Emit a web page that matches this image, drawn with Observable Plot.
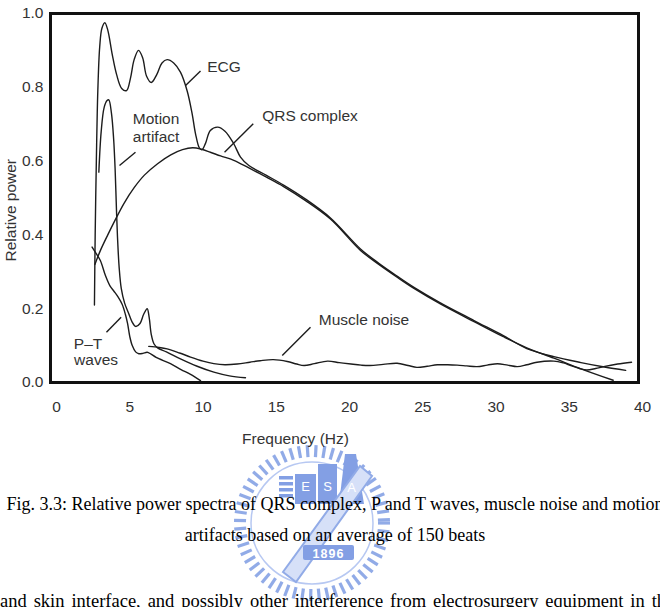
<!DOCTYPE html>
<html>
<head>
<meta charset="utf-8">
<script src="https://cdn.jsdelivr.net/npm/d3@7"></script>
<script src="https://cdn.jsdelivr.net/npm/@observablehq/plot@0.6"></script>
<style>
  html, body { margin: 0; padding: 0; background: #fff; }
  body { width: 660px; height: 607px; overflow: hidden; position: relative; font-family: "Liberation Sans", Arial, sans-serif; }
  #logo { position: absolute; left: 0; top: 0; z-index: 0; }
  #chart { position: absolute; left: 0; top: 0; z-index: 1; }
  .cap { position: absolute; white-space: nowrap; font-family: "Liberation Serif", "Times New Roman", serif; font-size: 18px; line-height: 18px; color: #000; z-index: 2; }
  #cap1, #cap2 { left: 335px; transform: translateX(-50%); }
  #cap1 { top: 495px; }
  #cap2 { top: 526px; }
  #body1 { left: 0px; top: 592px; font-size: 18.5px; line-height: 18.5px; word-spacing: 2.3px; }
</style>
</head>
<body>
<div id="logo"></div>
<div id="chart"></div>
<div class="cap" id="cap1">Fig. 3.3: Relative power spectra of QRS complex, P and T waves, muscle noise and motion</div>
<div class="cap" id="cap2">artifacts based on an average of 150 beats</div>
<div class="cap" id="body1">and skin interface, and possibly other interference from electrosurgery equipment in th</div>
<script>
// ---------- axis ticks ----------
const xTicks = [0, 5, 10, 15, 20, 25, 30, 35, 40];
const yTicks = [0, 0.2, 0.4, 0.6, 0.8, 1.0];

// ---------- series (frequency Hz, relative power) ----------
const ecgF = [2.59, 2.64, 2.72, 2.82, 2.95, 3.1, 3.3, 3.5, 3.8, 4.1, 4.45, 4.78, 5.05, 5.3, 5.6, 5.88, 6.15, 6.47, 6.85, 7.2, 7.55, 8.0, 8.46, 8.92, 9.26, 9.49, 9.76, 9.93, 10.17, 10.5, 11.0, 11.5, 12.1, 12.56, 13.13, 14.3, 15.5, 17.0, 18.7, 20.75, 22.0, 23.3, 24.4, 26.2, 28.5, 30.5, 32.1, 33.95, 35.8, 37.4, 38.85];
const ecgP = [0.21, 0.40, 0.60, 0.79, 0.91, 0.96, 0.975, 0.955, 0.89, 0.835, 0.797, 0.791, 0.825, 0.875, 0.90, 0.88, 0.83, 0.813, 0.835, 0.866, 0.875, 0.866, 0.841, 0.79, 0.728, 0.674, 0.635, 0.631, 0.648, 0.683, 0.692, 0.681, 0.647, 0.611, 0.588, 0.562, 0.535, 0.497, 0.446, 0.362, 0.323, 0.287, 0.258, 0.216, 0.168, 0.127, 0.092, 0.07, 0.054, 0.042, 0.033];

const qrsF = [2.62, 3.0, 3.5, 4.0, 4.6, 5.3, 6.0, 6.9, 7.8, 8.6, 9.3, 9.9, 10.5, 11.2, 12.1, 13.1, 14.3, 15.5, 17.0, 18.7, 20.75, 22.0, 23.3, 24.4, 26.2, 28.5, 30.5, 32.1, 33.95, 35.8, 38.0];
const qrsP = [0.32, 0.358, 0.40, 0.44, 0.485, 0.528, 0.562, 0.593, 0.617, 0.631, 0.636, 0.632, 0.624, 0.614, 0.602, 0.582, 0.557, 0.531, 0.493, 0.443, 0.358, 0.32, 0.284, 0.255, 0.213, 0.165, 0.124, 0.094, 0.066, 0.037, 0.006];

const motionF = [2.89, 3.05, 3.25, 3.45, 3.57, 3.75, 3.9, 4.0, 4.1, 4.18, 4.28, 4.42, 4.65, 4.9, 5.15, 5.4, 5.7, 5.95, 6.19, 6.33, 6.47, 6.65, 6.9, 7.5, 8.46, 9.6, 10.74, 11.8, 12.9];
const motionP = [0.57, 0.68, 0.745, 0.764, 0.766, 0.73, 0.66, 0.58, 0.46, 0.38, 0.31, 0.255, 0.215, 0.19, 0.165, 0.152, 0.16, 0.185, 0.20, 0.175, 0.13, 0.105, 0.094, 0.083, 0.064, 0.044, 0.028, 0.018, 0.013];

const ptF = [2.43, 2.7, 3.0, 3.34, 3.65, 3.91, 4.2, 4.48, 4.7, 4.85, 5.0, 5.17, 5.4, 5.62, 5.9, 6.19, 6.45, 6.8, 7.78, 8.5, 9.15, 9.83];
const ptP = [0.367, 0.35, 0.33, 0.29, 0.262, 0.248, 0.232, 0.212, 0.185, 0.16, 0.125, 0.1, 0.083, 0.078, 0.079, 0.082, 0.077, 0.068, 0.051, 0.035, 0.022, 0.005];

const muscleF = [6.3, 7.0, 7.55, 8.4, 9.15, 10.0, 10.74, 11.5, 12.33, 13.2, 13.9, 14.8, 15.75, 16.4, 16.9, 17.6, 18.5, 19.3, 20.1, 20.8, 21.4, 22.3, 23.25, 24.0, 24.6, 25.3, 26.0, 26.7, 27.35, 28.0, 28.7, 29.4, 30.1, 30.8, 31.45, 32.1, 32.8, 33.95, 34.6, 35.1, 35.7, 36.2, 36.8, 37.35, 38.3, 39.25];
const muscleP = [0.098, 0.095, 0.091, 0.08, 0.069, 0.058, 0.051, 0.048, 0.05, 0.055, 0.059, 0.062, 0.057, 0.05, 0.046, 0.051, 0.058, 0.054, 0.05, 0.047, 0.046, 0.049, 0.052, 0.046, 0.041, 0.044, 0.048, 0.048, 0.047, 0.045, 0.043, 0.047, 0.051, 0.047, 0.043, 0.048, 0.055, 0.058, 0.053, 0.046, 0.038, 0.034, 0.038, 0.043, 0.05, 0.055];

// ---------- annotations ----------
const labelText = ["ECG", "Motion", "artifact", "QRS complex", "Muscle noise", "P–T", "waves"];
const labelF    = [10.29, 5.21, 5.21, 14.04, 17.9, 1.18, 1.2];
const labelP    = [0.8545, 0.7127, 0.665, 0.7217, 0.168, 0.103, 0.0596];

const leaderF1 = [9.83, 5.39, 13.43, 17.34, 3.41];
const leaderP1 = [0.844, 0.624, 0.701, 0.150, 0.136];
const leaderF2 = [8.81, 4.30, 11.47, 15.41, 4.41];
const leaderP2 = [0.805, 0.588, 0.624, 0.073, 0.177];

const xTitle = "Frequency (Hz)";
const yTitle = "Relative power";

// ---------- build tables ----------
const seriesList = [
  {name: "ECG", f: ecgF, p: ecgP},
  {name: "QRS complex", f: qrsF, p: qrsP},
  {name: "Motion artifact", f: motionF, p: motionP},
  {name: "P–T waves", f: ptF, p: ptP},
  {name: "Muscle noise", f: muscleF, p: muscleP}
];
const lineRows = seriesList.flatMap(s => s.f.map((f, i) => ({series: s.name, f, p: s.p[i]})));
const labelRows = labelText.map((t, i) => ({t, f: labelF[i], p: labelP[i]}));
const leaderRows = leaderF1.map((f, i) => ({f1: f, p1: leaderP1[i], f2: leaderF2[i], p2: leaderP2[i]}));

const ink = "#1c1c1c";
const textInk = "#333";

const chart = Plot.plot({
  width: 660,
  height: 460,
  marginLeft: 56,
  marginRight: 18,
  marginTop: 13,
  marginBottom: 78,
  style: {fontFamily: "'Liberation Sans', Arial, sans-serif", fontSize: "15.5px", color: textInk, background: "transparent", overflow: "visible"},
  x: {domain: [0, 40], ticks: xTicks, tickFormat: d => String(d), tickSize: 0, tickPadding: 18, label: null},
  y: {domain: [0, 1], ticks: yTicks, tickFormat: d => d.toFixed(1), tickSize: 0, tickPadding: 13, label: null},
  marks: [
    Plot.frame({stroke: "#111", strokeWidth: 3, insetLeft: -6, insetRight: 4}),
    Plot.line(lineRows, {x: "f", y: "p", z: "series", curve: "catmull-rom", stroke: ink, strokeWidth: 1.4}),
    Plot.link(leaderRows, {x1: "f1", y1: "p1", x2: "f2", y2: "p2", stroke: ink, strokeWidth: 1.4}),
    Plot.text(labelRows, {x: "f", y: "p", text: "t", textAnchor: "start", fill: textInk, fontSize: 15.5}),
    Plot.text([xTitle], {frameAnchor: "bottom", text: d => d, textAnchor: "middle", lineAnchor: "middle", dx: -54, dy: 57, fill: textInk, fontSize: 15.5}),
    Plot.text([yTitle], {frameAnchor: "left", text: d => d, rotate: -90, textAnchor: "start", lineAnchor: "middle", dx: -45, dy: 63.5, fill: textInk, fontSize: 15.5})
  ]
});
document.getElementById("chart").appendChild(chart);

// ---------- decorative watermark (university emblem) ----------
(function drawLogo() {
  const cx = 312, cy = 523;
  const svg = d3.select("#logo").append("svg").attr("width", 660).attr("height", 607);
  const g = svg.append("g").attr("opacity", 0.75);
  const angles = d3.range(0, 360, 6.5);
  g.selectAll("line.ray").data(angles).join("line")
    .attr("x1", a => cx + 66 * Math.cos(a * Math.PI / 180))
    .attr("y1", a => cy + 66 * Math.sin(a * Math.PI / 180))
    .attr("x2", a => cx + 78 * Math.cos(a * Math.PI / 180))
    .attr("y2", a => cy + 78 * Math.sin(a * Math.PI / 180))
    .attr("stroke", "#6d8fe0").attr("stroke-width", 3.2);
  g.append("circle").attr("cx", cx).attr("cy", cy).attr("r", 61).attr("fill", "none").attr("stroke", "#9fb6ee").attr("stroke-width", 1.5);
  const blue = "#5a80dc";
  [476, 482, 488, 494].forEach(y => g.append("rect").attr("x", 279).attr("y", y).attr("width", 14).attr("height", 3.5).attr("fill", blue));
  g.append("rect").attr("x", 295).attr("y", 474).attr("width", 21).attr("height", 30).attr("fill", blue);
  g.append("rect").attr("x", 318).attr("y", 464).attr("width", 19).attr("height", 40).attr("fill", blue);
  g.append("polygon").attr("points", "339,504 345,454 356,454 364,504").attr("fill", blue);
  g.append("polygon").attr("points", "283,572 296,582 372,476 360,466").attr("fill", "#c9d6f6").attr("stroke", "#6d8fe0").attr("stroke-width", 2);
  const lt = [["E", 305.5, 491], ["S", 327.5, 491], ["A", 351.5, 492]];
  lt.forEach(([t, x, y]) => g.append("text").attr("x", x).attr("y", y).attr("text-anchor", "middle")
    .attr("font-family", "'Liberation Sans', Arial, sans-serif").attr("font-size", 13).attr("fill", "#fff").text(t));
  g.append("rect").attr("x", 303).attr("y", 545).attr("width", 51).attr("height", 15).attr("rx", 2).attr("fill", blue);
  g.append("text").attr("x", 328.5).attr("y", 557.5).attr("text-anchor", "middle")
    .attr("font-family", "'Liberation Sans', Arial, sans-serif").attr("font-weight", "bold").attr("font-size", 12.5)
    .attr("fill", "#fff").attr("letter-spacing", 1).text("1896");
})();
</script>
</body>
</html>
